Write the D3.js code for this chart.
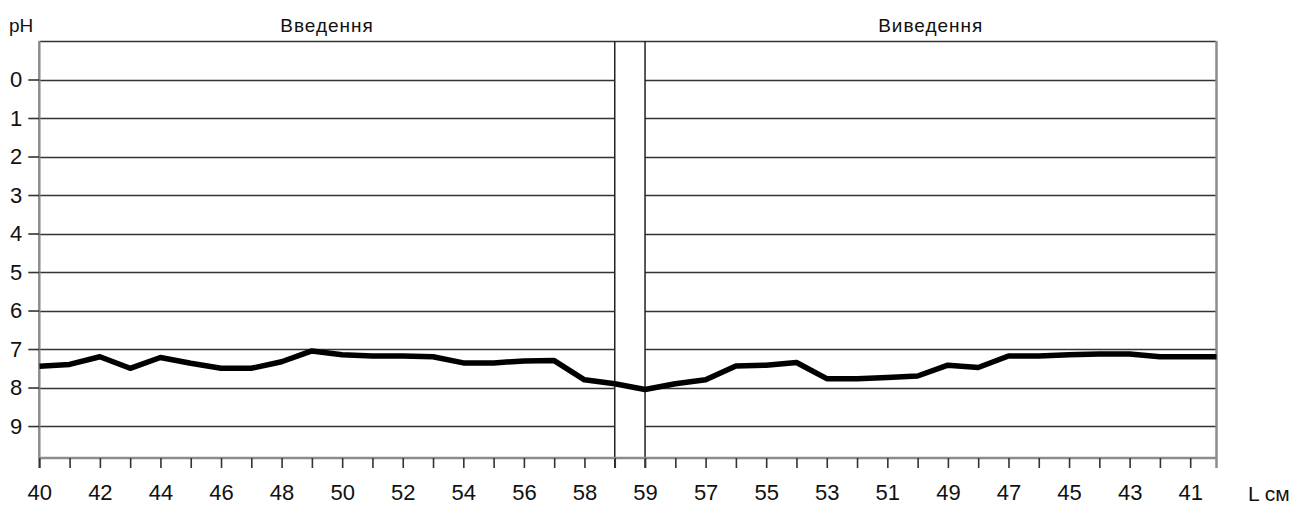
<!DOCTYPE html>
<html>
<head>
<meta charset="utf-8">
<script src="https://cdn.jsdelivr.net/npm/d3@7"></script>
<style>
  body { margin: 0; background: #fff; }
  svg text { font-family: "Liberation Sans", Arial, sans-serif; fill: #111; }
</style>
</head>
<body>
<svg id="chart" width="1310" height="510"></svg>
<script>
// L, cm along the probe: in (left panel) then out (right panel)
const leftCm = [40, 41, 42, 43, 44, 45, 46, 47, 48, 49, 50, 51, 52, 53, 54, 55, 56, 57, 58];
const rightCm = [59, 58, 57, 56, 55, 54, 53, 52, 51, 50, 49, 48, 47, 46, 45, 44, 43, 42, 41, 40];

// pH readings
const leftPH = [7.45, 7.4, 7.2, 7.5, 7.22, 7.37, 7.5, 7.5, 7.33, 7.05, 7.15, 7.18, 7.18, 7.2, 7.36, 7.36, 7.31, 7.3, 7.8];
const turnPH = [7.9];
const rightPH = [8.05, 7.9, 7.8, 7.44, 7.42, 7.35, 7.77, 7.77, 7.74, 7.7, 7.42, 7.48, 7.18, 7.18, 7.15, 7.13, 7.13, 7.2, 7.2, 7.2];

const yTicks = [0, 1, 2, 3, 4, 5, 6, 7, 8, 9];
const titles = ['Введення', 'Виведення'];

// one slot per reading, the turn point sits in the gap between panels
const allPH = leftPH.concat(turnPH, rightPH);
const slotLabels = leftCm.map(String).concat([''], rightCm.map(String));
const slots = d3.range(allPH.length);
const gapStart = leftCm.length;        // separator slot
const gapEnd = leftCm.length + 1;      // first slot of right panel

const svg = d3.select('#chart');
const plotTop = 41, plotBottom = 458, plotLeft = 39.3, plotRight = 1216.5;

const x = d3.scaleLinear().domain([0, 38]).range([plotLeft, 1190.2]);
const y = d3.scaleLinear().domain([-1, 9.83]).range([plotTop, plotBottom]);

svg.append('defs').append('clipPath').attr('id', 'plot')
  .append('rect').attr('x', plotLeft).attr('y', plotTop)
  .attr('width', plotRight - plotLeft).attr('height', plotBottom - plotTop);

// grid lines, broken at the gap
const grid = svg.append('g');
yTicks.forEach(v => {
  let gy = Math.round(y(v)) + 0.5;
  grid.append('line')
    .attr('x1', plotLeft).attr('x2', x(gapStart))
    .attr('y1', gy).attr('y2', gy)
    .attr('stroke', '#333').attr('stroke-width', 1.6);
  grid.append('line')
    .attr('x1', x(gapEnd)).attr('x2', plotRight)
    .attr('y1', gy).attr('y2', gy)
    .attr('stroke', '#333').attr('stroke-width', 1.6);
});

// top border
svg.append('line')
  .attr('x1', plotLeft).attr('x2', plotRight).attr('y1', plotTop + 0.5).attr('y2', plotTop + 0.5)
  .attr('stroke', '#333').attr('stroke-width', 1.6);

// separator lines
[gapStart, gapEnd].forEach(s => {
  svg.append('line')
    .attr('x1', x(s)).attr('x2', x(s)).attr('y1', plotTop).attr('y2', plotBottom + 10)
    .attr('stroke', '#222').attr('stroke-width', 1.5);
});

// right border
svg.append('line')
  .attr('x1', plotRight).attr('x2', plotRight).attr('y1', plotTop).attr('y2', plotBottom + 10)
  .attr('stroke', '#8c8c8c').attr('stroke-width', 2.5);

// y axis
const yAxis = svg.append('g')
  .attr('transform', `translate(${plotLeft},0)`)
  .call(d3.axisLeft(y).tickValues(yTicks).tickSize(11).tickPadding(6).tickSizeOuter(0));
yAxis.select('.domain').attr('stroke', '#8c8c8c').attr('stroke-width', 2.5)
  .attr('d', `M0,${plotTop}V${plotBottom + 10}`);
yAxis.selectAll('.tick line').attr('stroke', '#333').attr('stroke-width', 1.6);
yAxis.selectAll('.tick text').attr('font-size', 22).attr('fill', '#111')
  .attr('font-family', '"Liberation Sans", Arial, sans-serif');

// x axis, only slots that fall inside the frame
const xAxis = svg.append('g')
  .attr('transform', `translate(0,${plotBottom})`)
  .call(d3.axisBottom(x).tickValues(slots.filter(d => x(d) < plotRight - 2))
    .tickSize(10).tickPadding(16).tickSizeOuter(0)
    .tickFormat(d => d % 2 === 0 ? slotLabels[d] : ''));
xAxis.select('.domain').attr('stroke', '#8c8c8c').attr('stroke-width', 2.5)
  .attr('d', `M${plotLeft},0H${plotRight}`);
xAxis.selectAll('.tick line').attr('stroke', '#333').attr('stroke-width', 1.6);
xAxis.selectAll('.tick text').attr('font-size', 22).attr('fill', '#111')
  .attr('font-family', '"Liberation Sans", Arial, sans-serif');

// pH line
const line = d3.line().x((d, i) => x(i)).y(d => y(d));
svg.append('path')
  .datum(allPH)
  .attr('clip-path', 'url(#plot)')
  .attr('d', line)
  .attr('fill', 'none')
  .attr('stroke', '#000')
  .attr('stroke-width', 5.5)
  .attr('stroke-linejoin', 'round');

// labels
svg.append('text').attr('x', 9).attr('y', 32).attr('font-size', 19).text('pH');
svg.append('text').attr('x', (plotLeft + x(gapStart)) / 2).attr('y', 32)
  .attr('text-anchor', 'middle').attr('font-size', 19).attr('letter-spacing', 1).text(titles[0]);
svg.append('text').attr('x', (x(gapEnd) + plotRight) / 2).attr('y', 32)
  .attr('text-anchor', 'middle').attr('font-size', 19).attr('letter-spacing', 1).text(titles[1]);
svg.append('text').attr('x', 1248).attr('y', 501).attr('font-size', 21).text('L см');
</script>
</body>
</html>
